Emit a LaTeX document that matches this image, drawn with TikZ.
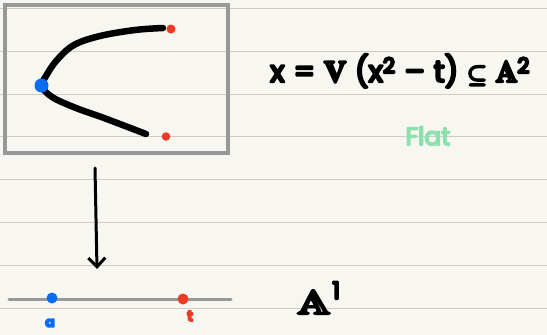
\documentclass[tikz,border=0pt]{standalone}
\usepackage{amssymb}
\usepackage{graphicx}
\usepackage{fontspec}
\newfontfamily\hand{Poppins}
\usetikzlibrary{arrows.meta}
\definecolor{paper}{HTML}{F8F6F1}
\definecolor{rule}{HTML}{CFCBC6}
\definecolor{frame}{HTML}{989898}
\definecolor{dotblue}{HTML}{0A6CF5}
\definecolor{dotred}{HTML}{EC3A24}
\definecolor{flatgreen}{HTML}{8EE0AC}
\newcommand\bolden[2][1.4]{\special{pdf:literal direct 1 j 2 Tr #1 w}#2\special{pdf:literal direct 0 Tr}}
\newcommand\gap{\hspace{9pt}}
\tikzset{
  ruled/.style={draw=rule, line width=0.9},
  frame/.style={draw=frame, line width=4, minimum width=223, minimum height=148, inner sep=0},
  stroke/.style={line width=6.5, line cap=round, line join=round},
  axis/.style={draw=frame, line width=3, line cap=round},
  bdot/.style={circle, fill=dotblue, inner sep=0, minimum size=#1},
  rdot/.style={circle, fill=dotred, inner sep=0, minimum size=#1},
  mapsto/.style={line width=3, line cap=round, -{Straight Barb[length=9pt,width=17pt,line width=3]}},
  eq/.style={font=\hand\fontsize{30}{34}\selectfont, inner sep=0, anchor=base west},
}
\begin{document}
\begin{tikzpicture}[x=1pt,y=-1pt]
\fill[paper] (0,0) rectangle (547,335);
\useasboundingbox (0,0) rectangle (547,335);
\foreach \y in {8.5,51.3,94.1,136.9,179.7,222.5,265.3,308.1}
  \draw[ruled] (0,\y) -- (547,\y);
\node[frame] (box) at (116.5,79) {};
\draw[stroke] plot[smooth, tension=0.6] coordinates {(163,28) (135,30) (100,36) (74,45) (57,60) (46,76) (42,86) (52,97) (76,108) (104,118) (146,134)};
\node[bdot=14] (p0) at (41.5,85.5) {};
\node[rdot=9] (p1) at (171,29) {};
\node[rdot=8.5] (p2) at (166,136.5) {};
\node[eq] (eq) at (270,82) {\bolden[2.4]{x\gap=\gap$\mathbb{V}$\gap(x\textsuperscript{2}\gap–\gap t)\gap$\subseteq$\gap$\mathbb{A}$\textsuperscript{2}}};
\node[font=\hand\fontsize{25}{28}\selectfont, text=flatgreen, inner sep=0] (flat) at (428,136) {\bolden[1.8]{Flat}};
\coordinate (from) at (95,168);
\coordinate (to) at (97,269);
\draw[mapsto] (from) -- (to);
\coordinate (l0) at (9,299);
\coordinate (l1) at (231,299);
\draw[axis] (l0) -- (l1);
\node[bdot=11] (a) at (52,298) {};
\node[rdot=11] (t) at (183,299) {};
\node[font=\hand\bfseries\fontsize{14}{16}\selectfont, text=dotblue, inner sep=0] (alab) at (50,323) {\bolden[1.5]{a}};
\node[font=\hand\bfseries\fontsize{15}{16}\selectfont, text=dotred, inner sep=0] (tlab) at (190,316) {\bolden[1.5]{t}};
\node[font=\hand\fontsize{34}{38}\selectfont, inner sep=0, anchor=base west] (A1) at (297,314) {\bolden[2.2]{\scalebox{1.35}[1]{$\mathbb{A}$}\hspace{2pt}\raisebox{6pt}{\textsuperscript{1}}}};
\end{tikzpicture}
\end{document}
